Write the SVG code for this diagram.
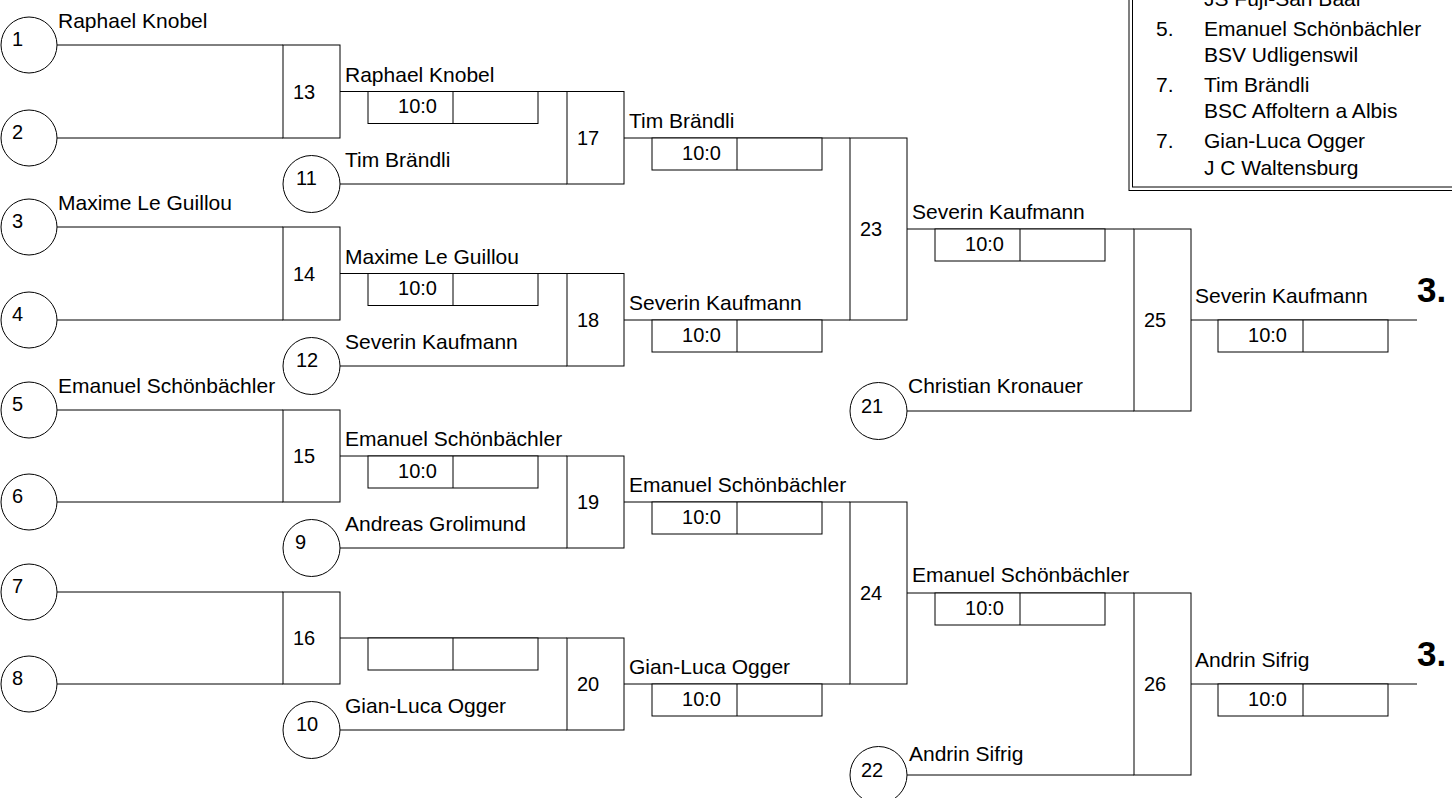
<svg xmlns="http://www.w3.org/2000/svg" width="1452" height="798" viewBox="0 0 1452 798">
<style>
.ln{stroke:#000;stroke-width:1;fill:none}
.bx{fill:#fff;stroke:#000;stroke-width:1}
.c{fill:#fff;stroke:#000;stroke-width:1}
text{font-family:"Liberation Sans",Arial,sans-serif;fill:#000}
.t{font-size:21px}
.n{font-size:20px}
.s{font-size:20px;text-anchor:middle}
.p{font-size:35px;font-weight:bold}
</style>
<rect width="1452" height="798" fill="#fff"/>
<g id="legend">
<rect x="1129" y="-10" width="400" height="200.5" fill="#fff" stroke="#000" stroke-width="1"/>
<rect x="1132.5" y="-10" width="400" height="197" fill="none" stroke="#000" stroke-width="1"/>
<text class="t" x="1204" y="6">JS Fuji-San Baar</text>
<text class="t" x="1156" y="36">5.</text><text class="t" x="1204" y="36">Emanuel Schönbächler</text>
<text class="t" x="1204" y="62">BSV Udligenswil</text>
<text class="t" x="1156" y="92">7.</text><text class="t" x="1204" y="92">Tim Brändli</text>
<text class="t" x="1204" y="118">BSC Affoltern a Albis</text>
<text class="t" x="1156" y="148">7.</text><text class="t" x="1204" y="148">Gian-Luca Ogger</text>
<text class="t" x="1204" y="175">J C Waltensburg</text>
</g>
<g id="connectors" class="ln">
<path d="M57 45H283M57 138H283M57 227H283M57 320H283M57 410H283M57 502H283M57 592H283M57 684H283"/>
<path d="M340 91.5H567M340 184H567M340 273.5H567M340 366H567M340 456H567M340 548H567M340 638H567M340 730H567"/>
<path d="M624 138H850M624 320H850M624 502H850M624 684H850"/>
<path d="M907 229H1134M907 411H1134M907 593H1134M907 775H1134"/>
<path d="M1191 320H1417M1191 684H1417"/>
</g>
<g id="seed1"><circle class="c" cx="29" cy="45" r="28"/><text class="n" x="12" y="46">1</text></g>
<g id="seed2"><circle class="c" cx="29" cy="138" r="28"/><text class="n" x="12" y="139">2</text></g>
<g id="seed3"><circle class="c" cx="29" cy="227" r="28"/><text class="n" x="12" y="228">3</text></g>
<g id="seed4"><circle class="c" cx="29" cy="320" r="28"/><text class="n" x="12" y="321">4</text></g>
<g id="seed5"><circle class="c" cx="29" cy="410" r="28"/><text class="n" x="12" y="411">5</text></g>
<g id="seed6"><circle class="c" cx="29" cy="502" r="28"/><text class="n" x="12" y="503">6</text></g>
<g id="seed7"><circle class="c" cx="29" cy="592" r="28"/><text class="n" x="12" y="593">7</text></g>
<g id="seed8"><circle class="c" cx="29" cy="684" r="28"/><text class="n" x="12" y="685">8</text></g>
<g id="seed11"><circle class="c" cx="311.5" cy="184" r="28.5"/><text class="n" x="296" y="185">11</text></g>
<g id="seed12"><circle class="c" cx="311.5" cy="366" r="28.5"/><text class="n" x="296" y="367">12</text></g>
<g id="seed9"><circle class="c" cx="311.5" cy="548" r="28.5"/><text class="n" x="295" y="549">9</text></g>
<g id="seed10"><circle class="c" cx="311.5" cy="730" r="28.5"/><text class="n" x="296" y="731">10</text></g>
<g id="seed21"><circle class="c" cx="878.5" cy="411" r="28.5"/><text class="n" x="861" y="413">21</text></g>
<g id="seed22"><circle class="c" cx="878.5" cy="775" r="28.5"/><text class="n" x="861" y="777">22</text></g>
<g id="names">
<text class="t" x="58" y="27.5">Raphael Knobel</text>
<text class="t" x="58" y="210">Maxime Le Guillou</text>
<text class="t" x="58" y="392.5">Emanuel Schönbächler</text>
<text class="t" x="345" y="81.5">Raphael Knobel</text>
<text class="t" x="345" y="263.5">Maxime Le Guillou</text>
<text class="t" x="345" y="446">Emanuel Schönbächler</text>
<text class="t" x="345" y="167">Tim Brändli</text>
<text class="t" x="345" y="349">Severin Kaufmann</text>
<text class="t" x="345" y="531">Andreas Grolimund</text>
<text class="t" x="345" y="713">Gian-Luca Ogger</text>
<text class="t" x="629" y="128">Tim Brändli</text>
<text class="t" x="629" y="310">Severin Kaufmann</text>
<text class="t" x="629" y="492">Emanuel Schönbächler</text>
<text class="t" x="629" y="674">Gian-Luca Ogger</text>
<text class="t" x="912" y="219">Severin Kaufmann</text>
<text class="t" x="912" y="582">Emanuel Schönbächler</text>
<text class="t" x="908" y="393">Christian Kronauer</text>
<text class="t" x="909" y="761">Andrin Sifrig</text>
<text class="t" x="1195" y="302.5">Severin Kaufmann</text>
<text class="t" x="1195" y="666.5">Andrin Sifrig</text>
</g>
<g id="m13"><rect class="bx" x="283" y="45" width="57" height="93"/><text class="n" x="293" y="98.5">13</text></g>
<g id="m14"><rect class="bx" x="283" y="227" width="57" height="93"/><text class="n" x="293" y="280.5">14</text></g>
<g id="m15"><rect class="bx" x="283" y="410" width="57" height="92"/><text class="n" x="293" y="463">15</text></g>
<g id="m16"><rect class="bx" x="283" y="592" width="57" height="92"/><text class="n" x="293" y="645">16</text></g>
<g id="m17"><rect class="bx" x="567" y="91.5" width="57" height="92.5"/><text class="n" x="577" y="145">17</text></g>
<g id="m18"><rect class="bx" x="567" y="273.5" width="57" height="92.5"/><text class="n" x="577" y="327">18</text></g>
<g id="m19"><rect class="bx" x="567" y="456" width="57" height="92"/><text class="n" x="577" y="509">19</text></g>
<g id="m20"><rect class="bx" x="567" y="638" width="57" height="92"/><text class="n" x="577" y="691">20</text></g>
<g id="m23"><rect class="bx" x="850" y="138" width="57" height="182"/><text class="n" x="860" y="236">23</text></g>
<g id="m24"><rect class="bx" x="850" y="502" width="57" height="182"/><text class="n" x="860" y="600">24</text></g>
<g id="m25"><rect class="bx" x="1134" y="229" width="57" height="182"/><text class="n" x="1144" y="327">25</text></g>
<g id="m26"><rect class="bx" x="1134" y="593" width="57" height="182"/><text class="n" x="1144" y="691">26</text></g>
<g id="scores">
<g id="s13"><rect class="bx" x="368" y="91.5" width="170" height="32"/><path class="ln" d="M453 91.5V123.5"/><text class="s" x="417.5" y="113">10:0</text></g>
<g id="s14"><rect class="bx" x="368" y="273.5" width="170" height="32"/><path class="ln" d="M453 273.5V305.5"/><text class="s" x="417.5" y="295">10:0</text></g>
<g id="s15"><rect class="bx" x="368" y="456" width="170" height="32"/><path class="ln" d="M453 456V488"/><text class="s" x="417.5" y="477.5">10:0</text></g>
<g id="s16"><rect class="bx" x="368" y="638" width="170" height="32"/><path class="ln" d="M453 638V670"/></g>
<g id="s17"><rect class="bx" x="652" y="138" width="170" height="32"/><path class="ln" d="M737 138V170"/><text class="s" x="701.5" y="159.5">10:0</text></g>
<g id="s18"><rect class="bx" x="652" y="320" width="170" height="32"/><path class="ln" d="M737 320V352"/><text class="s" x="701.5" y="341.5">10:0</text></g>
<g id="s19"><rect class="bx" x="652" y="502" width="170" height="32"/><path class="ln" d="M737 502V534"/><text class="s" x="701.5" y="523.5">10:0</text></g>
<g id="s20"><rect class="bx" x="652" y="684" width="170" height="32"/><path class="ln" d="M737 684V716"/><text class="s" x="701.5" y="705.5">10:0</text></g>
<g id="s23"><rect class="bx" x="935" y="229" width="170" height="32"/><path class="ln" d="M1020 229V261"/><text class="s" x="984.5" y="250.5">10:0</text></g>
<g id="s24"><rect class="bx" x="935" y="593" width="170" height="32"/><path class="ln" d="M1020 593V625"/><text class="s" x="984.5" y="614.5">10:0</text></g>
<g id="s25"><rect class="bx" x="1218" y="320" width="170" height="32"/><path class="ln" d="M1303 320V352"/><text class="s" x="1267.5" y="341.5">10:0</text></g>
<g id="s26"><rect class="bx" x="1218" y="684" width="170" height="32"/><path class="ln" d="M1303 684V716"/><text class="s" x="1267.5" y="705.5">10:0</text></g>
</g>
<g id="places">
<text class="p" x="1417" y="302">3.</text>
<text class="p" x="1417" y="666">3.</text>
</g>
</svg>
